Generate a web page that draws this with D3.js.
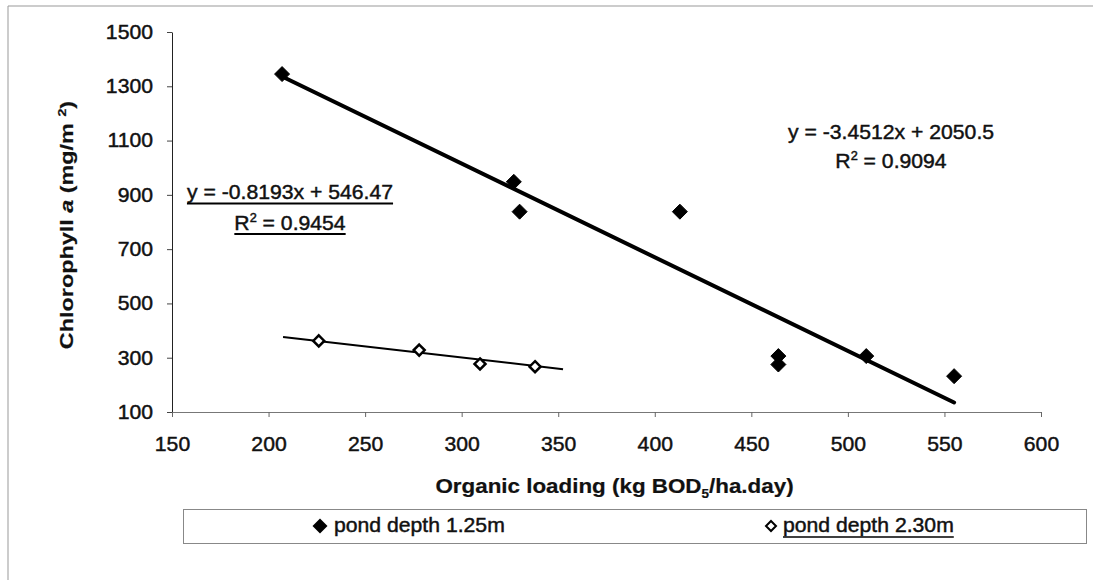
<!DOCTYPE html>
<html>
<head>
<meta charset="utf-8">
<script src="https://cdn.jsdelivr.net/npm/d3@7"></script>
<style>
  html, body { margin: 0; padding: 0; background: #fff; }
  svg { display: block; font-family: "Liberation Sans", Arial, sans-serif; }
  svg text { stroke: #111; stroke-width: 0.45px; }
</style>
</head>
<body>
<svg id="chart" width="1095" height="580"></svg>
<script>
// Pond depth 1.25 m: organic loading (kg BOD5/ha.day) vs chlorophyll a (mg/m2)
const shallowLoading = [207, 327, 330, 413, 464, 464, 509.5, 555];
const shallowChl     = [1345, 948, 838, 838, 306, 275, 306, 232];

// Pond depth 2.30 m
const deepLoading = [226, 278, 309.5, 338];
const deepChl     = [362, 328, 277, 267];

// Linear trendlines: [slope, intercept] and the loading range each is drawn over
const shallowFit  = [-3.4512, 2050.5];
const deepFit     = [-0.8193, 546.47];
const shallowSpan = [207, 555];
const deepSpan    = [207.5, 352.5];

// Trendline labels
const shallowEq = "y = -3.4512x + 2050.5";
const shallowR2 = "0.9094";
const deepEq    = "y = -0.8193x + 546.47";
const deepR2    = "0.9454";

// Axes
const xTicks = [150, 200, 250, 300, 350, 400, 450, 500, 550, 600];
const yTicks = [100, 300, 500, 700, 900, 1100, 1300, 1500];
const seriesNames = ["pond depth 1.25m", "pond depth 2.30m"];

const svg = d3.select("#chart");
const STRETCH = 1.06;   // slight horizontal widening of the Arial text

const x = d3.scaleLinear().domain([150, 600]).range([172, 1041]);
const y = d3.scaleLinear().domain([100, 1500]).range([412, 32]);

// page frame
svg.append("path")
  .attr("d", "M8,580 L8,6 L1093,6")
  .attr("fill", "none").attr("stroke", "#999").attr("stroke-width", 1);

// y axis
const yAxis = svg.append("g")
  .attr("transform", `translate(${x(150)},0)`)
  .call(d3.axisLeft(y).tickValues(yTicks).tickSize(5).tickSizeOuter(0).tickPadding(14)
        .tickFormat(d3.format("d")));
yAxis.select(".domain").attr("stroke", "#222");
yAxis.selectAll(".tick line").attr("stroke", "#444");
yAxis.selectAll(".tick text")
  .attr("font-size", 20).attr("fill", "#111").attr("font-family", "Liberation Sans, Arial, sans-serif")
  .each(function () {
    const t = d3.select(this);
    const tx = +t.attr("x");
    t.attr("x", 0).attr("transform", `translate(${tx},0) scale(${STRETCH},1)`);
  });

// x axis
const xAxis = svg.append("g")
  .attr("transform", `translate(0,${y(100)})`)
  .call(d3.axisBottom(x).tickValues(xTicks).tickSize(5).tickSizeOuter(0).tickPadding(20)
        .tickFormat(d3.format("d")));
xAxis.select(".domain").attr("stroke", "#777");
xAxis.selectAll(".tick line").attr("stroke", "#666");
xAxis.selectAll(".tick text")
  .attr("font-size", 20).attr("fill", "#111").attr("font-family", "Liberation Sans, Arial, sans-serif")
  .attr("transform", `scale(${STRETCH},1)`);

// axis titles
const xt = svg.append("g")
  .attr("transform", `translate(${(x(150) + x(600)) / 2 + 8},493) scale(1.12,1)`)
  .append("text")
  .attr("text-anchor", "middle").attr("font-size", 20).attr("font-weight", "bold").attr("fill", "#111")
  .style("stroke-width", "0.2px");
xt.append("tspan").text("Organic loading (kg BOD");
xt.append("tspan").attr("font-size", 12).attr("dy", 5).text("5");
xt.append("tspan").attr("dy", -5).text("/ha.day)");

const yt = svg.append("g")
  .attr("transform", "translate(67,225) rotate(-90) scale(1.3,1)")
  .append("text")
  .attr("text-anchor", "middle").attr("dy", "0.35em")
  .attr("font-size", 18).attr("font-weight", "bold").attr("fill", "#111")
  .style("stroke-width", "0.2px");
yt.append("tspan").text("Chlorophyll ");
yt.append("tspan").attr("font-style", "italic").text(" a ");
yt.append("tspan").text(" (mg/m ");
yt.append("tspan").attr("font-size", 11).attr("dy", -7).text("2");
yt.append("tspan").attr("dy", 7).text(")");

// trendlines
const fitLine = d3.line().x(d => x(d[0])).y(d => y(d[1]));
function fitPoints(fit, span) {
  return span.map(v => [v, fit[0] * v + fit[1]]);
}
svg.append("path")
  .attr("d", fitLine(fitPoints(shallowFit, shallowSpan)))
  .attr("stroke", "#000").attr("stroke-width", 4).attr("stroke-linecap", "round").attr("fill", "none");
svg.append("path")
  .attr("d", fitLine(fitPoints(deepFit, deepSpan)))
  .attr("stroke", "#000").attr("stroke-width", 2).attr("fill", "none");

// diamond marker path centred on the origin
const diamond = r => `M0,${-r}L${r},0L0,${r}L${-r},0Z`;

// pond depth 1.25 m: filled diamonds
svg.append("g").selectAll("path")
  .data(d3.zip(shallowLoading, shallowChl))
  .join("path")
  .attr("transform", d => `translate(${x(d[0])},${y(d[1])})`)
  .attr("d", diamond(7.5))
  .attr("fill", "#000").attr("stroke", "#000").attr("stroke-width", 1).attr("stroke-linejoin", "round");

// pond depth 2.30 m: open diamonds
svg.append("g").selectAll("path")
  .data(d3.zip(deepLoading, deepChl))
  .join("path")
  .attr("transform", d => `translate(${x(d[0])},${y(d[1])})`)
  .attr("d", diamond(5.5))
  .attr("fill", "#fff").attr("stroke", "#000").attr("stroke-width", 2.5);

// helpers for stretched text and underlines
function label(cx, cy, anchor, size) {
  return svg.append("g")
    .attr("transform", `translate(${cx},${cy}) scale(${STRETCH},1)`)
    .append("text")
    .attr("text-anchor", anchor).attr("font-size", size).attr("fill", "#111");
}
function r2Label(t, value) {
  t.append("tspan").text("R");
  t.append("tspan").attr("font-size", 12).attr("dy", -8).text("2");
  t.append("tspan").attr("dy", 8).text(" = " + value);
}
function underline(t, offset, width) {
  const b = t.node().getBBox();
  d3.select(t.node().parentNode).append("line")
    .attr("x1", b.x).attr("x2", b.x + b.width)
    .attr("y1", offset).attr("y2", offset)
    .attr("stroke", "#000").attr("stroke-width", width);
}

// shallow-pond equation
label(891, 139, "middle", 20).text(shallowEq);
r2Label(label(891, 168, "middle", 20), shallowR2);

// deep-pond equation (underlined)
const e1 = label(290, 199, "middle", 20).text(deepEq);
underline(e1, 4.5, 2);
const e2 = label(290, 230, "middle", 20);
r2Label(e2, deepR2);
underline(e2, 4, 2);

// legend
svg.append("rect")
  .attr("x", 183.5).attr("y", 509.5).attr("width", 903).attr("height", 34)
  .attr("fill", "none").attr("stroke", "#888").attr("stroke-width", 1);

const legendItems = [
  { name: seriesNames[0], mx: 320, tx: 334, filled: true },
  { name: seriesNames[1], mx: 771, tx: 783, filled: false }
];
legendItems.forEach(item => {
  svg.append("path")
    .attr("transform", `translate(${item.mx},526)`)
    .attr("d", diamond(item.filled ? 7.5 : 5))
    .attr("fill", item.filled ? "#000" : "#fff")
    .attr("stroke", item.filled ? "none" : "#000")
    .attr("stroke-width", 2);
  const t = label(item.tx, 532, "start", 20).text(item.name);
  if (!item.filled) underline(t, 5, 1.5);
});
</script>
</body>
</html>
